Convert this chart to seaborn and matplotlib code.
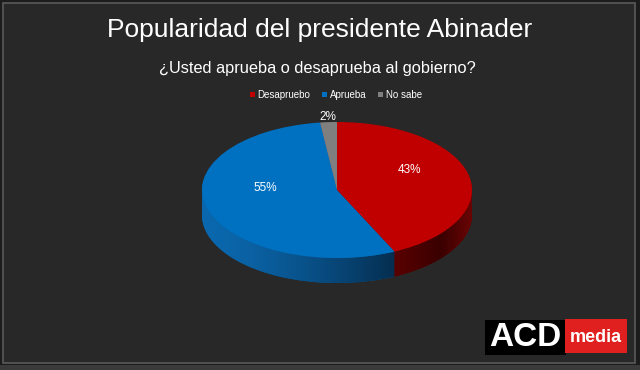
import numpy as np
import matplotlib
matplotlib.use("Agg")
import matplotlib.pyplot as plt
import seaborn as sns
from matplotlib.patches import Rectangle, Patch, Polygon
from matplotlib.colors import to_rgb

sns.set_theme(style="dark")
plt.rcParams['font.family'] = ['Liberation Sans', 'DejaVu Sans']

categories = ["Desapruebo", "Aprueba", "No sabe"]
values = [43, 55, 2]
top_colors = ["#C00000", "#0070C0", "#7F7F7F"]
side_colors = ["#6A0000", "#0A5A98", "#505050"]

W, H = 640, 370
fig = plt.figure(figsize=(6.4, 3.7), dpi=100)
fig.patch.set_facecolor("#1c1c1c")

# background panel + frame
bg = fig.add_axes([0, 0, 1, 1])
bg.set_xlim(0, W); bg.set_ylim(H, 0); bg.axis("off")
bg.add_patch(Rectangle((2.5, 2.5), 632, 360, facecolor="#282828", edgecolor="#5a5a5a", lw=1.2))
bg.add_patch(Rectangle((0, 364.5), W, 6, facecolor="#3a3a3a", edgecolor="none"))

# pie axes: 1 unit = rx px horizontally, ry px vertically
cx, cy = 337, 190
rx, ry = 135, 68
depth = 25 / ry
ax = fig.add_axes([0, 0, 1, 1])
ax.set_facecolor("none")

nlayers = 40
for d in np.linspace(depth, 0.0, nlayers, endpoint=False):
    ax.pie(values, colors=side_colors, startangle=90, counterclock=False,
           center=(0, -d), radius=1, wedgeprops=dict(linewidth=0, zorder=1))

# shaded side wall (gradient), clipped to the visible band
ang_b = np.deg2rad(90 - 360 * values[0] / sum(values))
xb = np.cos(ang_b)
t = np.linspace(np.pi, 2 * np.pi, 200)
upper = np.column_stack([np.cos(t), np.sin(t)])
lower = np.column_stack([np.cos(t[::-1]), np.sin(t[::-1]) - depth])
band = Polygon(np.vstack([upper, lower]), closed=True, transform=ax.transData)
xs = np.linspace(-1, 1, 400)
cols = np.zeros((len(xs), 3))
blue_a, blue_b = np.array(to_rgb("#0B68AE")), np.array(to_rgb("#052E50"))
red_a, red_m, red_b = np.array(to_rgb("#5A0000")), np.array(to_rgb("#3A0000")), np.array(to_rgb("#6A0505"))
for i, x in enumerate(xs):
    if x < xb:
        f = (x + 1) / (xb + 1)
        cols[i] = blue_a + (blue_b - blue_a) * f ** 1.5
    else:
        f = (x - xb) / (1 - xb)
        if f < 0.6:
            cols[i] = red_a + (red_m - red_a) * (f / 0.6)
        else:
            cols[i] = red_m + (red_b - red_m) * ((f - 0.6) / 0.4)
img = np.repeat(cols[None, :, :], 2, axis=0)
im = ax.imshow(img, extent=(-1, 1, -1 - depth, 0), aspect="auto",
               interpolation="bilinear", zorder=1.5)
im.set_clip_path(band)

wedges, _, autotexts = ax.pie(values, colors=top_colors, startangle=90, counterclock=False,
                              center=(0, 0), radius=1, autopct='%d%%', pctdistance=0.55,
                              wedgeprops=dict(linewidth=0, zorder=2),
                              textprops=dict(color="white", fontsize=8.5, zorder=3))
for w, tx in zip(wedges, autotexts):
    th = np.deg2rad((w.theta1 + w.theta2) / 2)
    if w.theta2 - w.theta1 < 20:
        tx.set_position((1.07 * np.cos(th), 1.07 * np.sin(th)))
    else:
        x, y = tx.get_position()
        tx.set_position((x, y + 0.18))

ax.set_aspect("auto")
ax.set_xlim(-cx / rx, (W - cx) / rx)
ax.set_ylim(-(H - cy) / ry, cy / ry)
ax.axis("off")

# titles
fig.text(320 / W, 1 - 30 / H, "Popularidad del presidente Abinader", color="white",
         fontsize=19, ha="center", va="center")
fig.text(317 / W, 1 - 68 / H, "¿Usted aprueba o desaprueba al gobierno?", color="white",
         fontsize=11.8, ha="center", va="center")

# legend
handles = [Patch(facecolor=c, edgecolor="none") for c in top_colors]
fig.legend(handles, categories, loc="center", bbox_to_anchor=(336 / W, 1 - 95 / H),
           ncol=3, frameon=False, fontsize=7, handlelength=0.5, handleheight=0.5,
           handletextpad=0.3, columnspacing=1.2, labelcolor="white")

# logo
bg.add_patch(Rectangle((485, 320), 81, 35, facecolor="black", edgecolor="none"))
bg.add_patch(Rectangle((565, 319), 62, 34, facecolor="#E0201E", edgecolor="none"))
bg.text(525, 338, "ACD", color="white", fontsize=24, fontweight="heavy", ha="center", va="center")
bg.text(596, 337, "media", color="white", fontsize=13, fontweight="bold", ha="center", va="center")

fig.savefig("out.png", dpi=100, facecolor=fig.get_facecolor())
